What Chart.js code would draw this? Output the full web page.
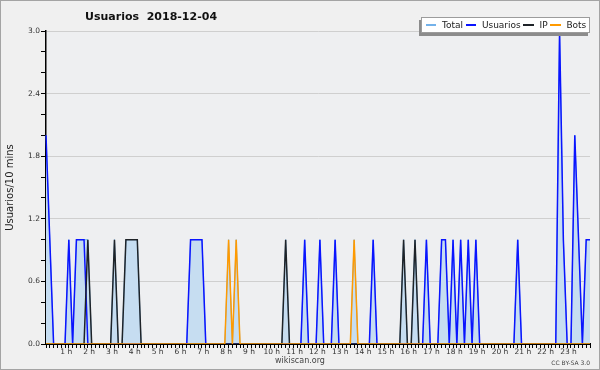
<!DOCTYPE html>
<html>
<head>
<meta charset="utf-8">
<script src="https://cdn.jsdelivr.net/npm/chart.js@4.4.1/dist/chart.umd.min.js"></script>
<style>
html,body{margin:0;padding:0;background:#f0f0f0;}
#wrap{width:600px;height:370px;position:relative;font-family:"DejaVu Sans",sans-serif;}
#wrap canvas{position:absolute;left:0;top:0;}
#frame{position:absolute;left:0;top:0;width:600px;height:370px;box-sizing:border-box;border:1px solid #a4a4a4;pointer-events:none;}
#title{position:absolute;left:85px;top:11px;font-weight:bold;font-size:11px;line-height:11px;color:#111;white-space:pre;}
#legend{position:absolute;left:421px;top:17px;width:169px;height:16px;box-sizing:border-box;border:1px solid #9c9c9c;background:#fff;
  box-shadow:-2px 3px 0 #8c8c8c;display:flex;align-items:center;padding-left:4px;font-size:9px;line-height:14px;color:#222;white-space:nowrap;}
#legend .sw{display:inline-block;width:10.7px;height:1.5px;margin-right:5.6px;}
#legend .lb{margin-right:2.7px;}
#foot{position:absolute;left:200px;width:200px;top:355px;text-align:center;font-size:8px;line-height:11px;color:#444;}
#cc{position:absolute;right:10px;top:359px;font-size:6px;line-height:7px;color:#444;}
</style>
</head>
<body>
<div id="wrap">
  <canvas id="c" width="600" height="370"></canvas>
  <div id="title"></div>
  <div id="legend"></div>
  <div id="foot"></div>
  <div id="cc"></div>
  <div id="frame"></div>
</div>
<script>
// ---- text ----
const chartTitle = 'Usuarios  2018-12-04';
const yAxisTitle = 'Usuarios/10 mins';
const seriesNames = ['Total', 'Usuarios', 'IP', 'Bots'];
const hourTickLabels = ['1 h','2 h','3 h','4 h','5 h','6 h','7 h','8 h','9 h','10 h','11 h','12 h',
  '13 h','14 h','15 h','16 h','17 h','18 h','19 h','20 h','21 h','22 h','23 h'];
const yTickLabels = ['0.0','0.6','1.2','1.8','2.4','3.0'];
const footerLeft = 'wikiscan.org';
const footerRight = 'CC BY-SA 3.0';

// ---- categories: 10-minute slots of the day ----
const slots = [];
for (let h = 0; h < 24; h++) for (let m = 0; m < 60; m += 10) slots.push(h + ':' + String(m).padStart(2, '0'));

// ---- series values (6 slots per hour, 4 hours per row) ----
const total = [
  2,1,0,0,0,0,  1,0,1,1,1,1,  0,0,0,0,0,0,  1,0,0,1,1,1,
  1,0,0,0,0,0,  0,0,0,0,0,0,  0,0,1,1,1,1,  0,0,0,0,0,0,
  1,0,1,0,0,0,  0,0,0,0,0,0,  0,0,0,1,0,0,  0,0,1,0,0,0,
  1,0,0,0,1,0,  0,0,0,1,0,0,  0,0,1,0,0,0,  0,0,0,0,1,0,
  0,1,0,0,1,0,  0,0,1,1,0,1,  0,1,0,1,0,1,  0,0,0,0,0,0,
  0,0,0,0,1,0,  0,0,0,0,0,0,  0,0,0,3,1,0,  0,2,1,0,1,1
];
const usuarios = [
  2,1,0,0,0,0,  1,0,1,1,1,0,  0,0,0,0,0,0,  0,0,0,0,0,0,
  0,0,0,0,0,0,  0,0,0,0,0,0,  0,0,1,1,1,1,  0,0,0,0,0,0,
  0,0,0,0,0,0,  0,0,0,0,0,0,  0,0,0,0,0,0,  0,0,1,0,0,0,
  1,0,0,0,1,0,  0,0,0,0,0,0,  0,0,1,0,0,0,  0,0,0,0,0,0,
  0,0,0,0,1,0,  0,0,1,1,0,1,  0,1,0,1,0,1,  0,0,0,0,0,0,
  0,0,0,0,1,0,  0,0,0,0,0,0,  0,0,0,3,1,0,  0,2,1,0,1,1
];
const ip = [
  0,0,0,0,0,0,  0,0,0,0,0,1,  0,0,0,0,0,0,  1,0,0,1,1,1,
  1,0,0,0,0,0,  0,0,0,0,0,0,  0,0,0,0,0,0,  0,0,0,0,0,0,
  0,0,0,0,0,0,  0,0,0,0,0,0,  0,0,0,1,0,0,  0,0,0,0,0,0,
  0,0,0,0,0,0,  0,0,0,0,0,0,  0,0,0,0,0,0,  0,0,0,0,1,0,
  0,1,0,0,0,0,  0,0,0,0,0,0,  0,0,0,0,0,0,  0,0,0,0,0,0,
  0,0,0,0,0,0,  0,0,0,0,0,0,  0,0,0,0,0,0,  0,0,0,0,0,0
];
const bots = [
  0,0,0,0,0,0,  0,0,0,0,0,0,  0,0,0,0,0,0,  0,0,0,0,0,0,
  0,0,0,0,0,0,  0,0,0,0,0,0,  0,0,0,0,0,0,  0,0,0,0,0,0,
  1,0,1,0,0,0,  0,0,0,0,0,0,  0,0,0,0,0,0,  0,0,0,0,0,0,
  0,0,0,0,0,0,  0,0,0,1,0,0,  0,0,0,0,0,0,  0,0,0,0,0,0,
  0,0,0,0,0,0,  0,0,0,0,0,0,  0,0,0,0,0,0,  0,0,0,0,0,0,
  0,0,0,0,0,0,  0,0,0,0,0,0,  0,0,0,0,0,0,  0,0,0,0,0,0
];

// ---- styles ----
const colors = { total: '#74b2ea', totalFill: '#c6ddf1', usuarios: '#0a14ff', ip: '#1e2328', bots: '#ff9a00' };
const legendColors = [colors.total, colors.usuarios, colors.ip, colors.bots];

// ---- text overlays ----
document.getElementById('title').textContent = chartTitle;
document.getElementById('foot').textContent = footerLeft;
document.getElementById('cc').textContent = footerRight;
const legendEl = document.getElementById('legend');
seriesNames.forEach((name, i) => {
  const sw = document.createElement('span');
  sw.className = 'sw';
  sw.style.background = legendColors[i];
  const lb = document.createElement('span');
  lb.className = 'lb';
  lb.textContent = name;
  legendEl.appendChild(sw);
  legendEl.appendChild(lb);
});

// plot-area background only (drawn before everything else)
const plotBg = {
  id: 'plotBg',
  beforeDraw(chart) {
    const { ctx, chartArea: a } = chart;
    ctx.save();
    ctx.fillStyle = '#f0f0f0';
    ctx.fillRect(0, 0, chart.width, chart.height);
    ctx.fillStyle = '#eeeff1';
    ctx.fillRect(a.left, a.top, a.right - a.left, a.bottom - a.top);
    ctx.restore();
  }
};

const lineDs = (label, data, color, width, order, extra) => Object.assign({
  label, data, borderColor: color, borderWidth: width, pointRadius: 0, tension: 0, fill: false, order
}, extra || {});

new Chart(document.getElementById('c'), {
  type: 'line',
  data: {
    labels: slots,
    datasets: [
      lineDs(seriesNames[0], total, colors.total, 1, 4, { fill: 'origin', backgroundColor: colors.totalFill }),
      lineDs(seriesNames[1], usuarios, colors.usuarios, 1.5, 3),
      lineDs(seriesNames[2], ip, colors.ip, 1.5, 2),
      lineDs(seriesNames[3], bots, colors.bots, 1.5, 1)
    ]
  },
  options: {
    responsive: false,
    animation: false,
    devicePixelRatio: 1,
    layout: { padding: { left: 0, right: 10, top: 31, bottom: 0 } },
    plugins: { legend: { display: false }, title: { display: false }, tooltip: { enabled: false } },
    scales: {
      x: {
        type: 'category',
        offset: false,
        afterFit(s) { s.height = 26; },
        border: { display: true, color: '#000', width: 2 },
        grid: { display: true, drawOnChartArea: false, drawTicks: true, tickLength: 4, tickColor: '#000', color: '#000' },
        ticks: {
          autoSkip: false, maxRotation: 0, minRotation: 0, padding: 0, labelOffset: -2.5,
          color: '#333', font: { family: 'DejaVu Sans', size: 7.5 },
          callback(v, i) { return (i % 6 === 0 && i > 0) ? hourTickLabels[i / 6 - 1] : ''; }
        }
      },
      y: {
        min: 0, max: 3,
        afterFit(s) { s.width = 46; },
        border: { display: true, color: '#000', width: 1.5 },
        grid: {
          drawTicks: true, tickLength: 5, tickColor: '#000',
          color(ctx) { const k = Math.round(ctx.tick.value * 5); return (k % 3 === 0 && k > 0) ? '#cfcfcf' : 'rgba(0,0,0,0)'; }
        },
        ticks: {
          stepSize: 0.2, padding: 1, color: '#333', font: { family: 'DejaVu Sans', size: 7.5 },
          callback(v) { const k = Math.round(v * 5); return k % 3 === 0 ? yTickLabels[k / 3] : ''; }
        },
        title: { display: true, text: yAxisTitle, color: '#222', font: { family: 'DejaVu Sans', size: 10 }, padding: { top: 4, bottom: 0 } }
      }
    }
  },
  plugins: [plotBg]
});
</script>
</body>
</html>
